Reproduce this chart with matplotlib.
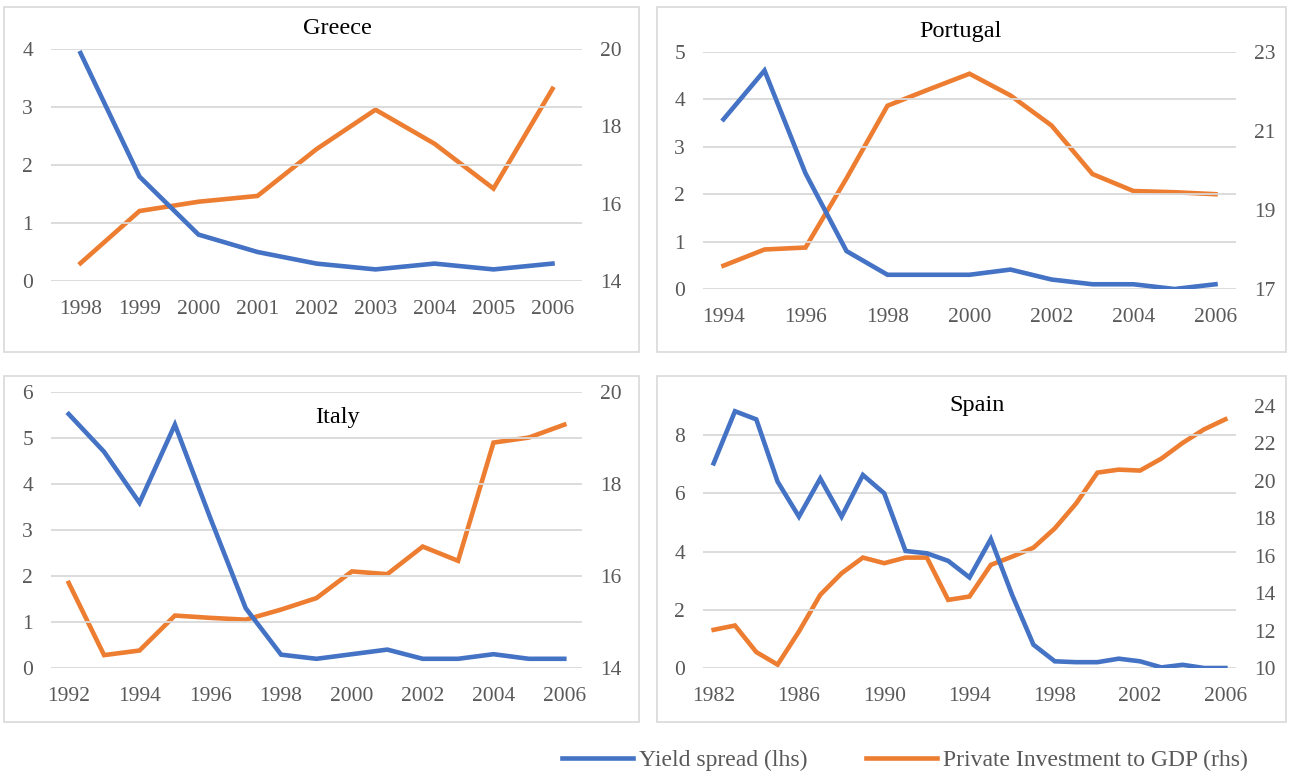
import matplotlib.pyplot as plt
from matplotlib.patches import Rectangle
from matplotlib.lines import Line2D

plt.rcParams['font.family'] = ['Liberation Serif', 'DejaVu Serif']

BLUE = '#4472C4'
ORANGE = '#ED7D31'
GRID = '#D9D9D9'
TICK = '#595959'

W, H = 1293, 776

# data
greece_years = list(range(1998, 2007))
greece_spread = [3.93, 1.8, 0.8, 0.5, 0.3, 0.2, 0.3, 0.2, 0.3]
greece_invest = [14.46, 15.81, 16.05, 16.2, 17.41, 18.43, 17.55, 16.39, 18.97]

portugal_years = list(range(1994, 2007))
portugal_spread = [3.58, 4.61, 2.44, 0.8, 0.3, 0.3, 0.3, 0.41, 0.2, 0.1, 0.1, 0.0, 0.1]
portugal_invest = [17.59, 18.0, 18.05, 19.8, 21.64, 22.05, 22.45, 21.9, 21.14,
                   19.91, 19.48, 19.45, 19.4]

italy_years = list(range(1992, 2007))
italy_spread = [5.52, 4.7, 3.59, 5.29, 3.26, 1.3, 0.29, 0.2, 0.3, 0.4, 0.2, 0.2,
                0.3, 0.2, 0.2]
italy_invest = [15.85, 14.28, 14.38, 15.14, 15.09, 15.05, 15.27, 15.52, 16.1,
                16.04, 16.64, 16.33, 18.9, 19.01, 19.29]

spain_years = list(range(1982, 2007))
spain_spread = [7.03, 8.82, 8.54, 6.4, 5.2, 6.51, 5.2, 6.63, 6.0, 4.02, 3.94,
                3.68, 3.11, 4.43, 2.51, 0.8, 0.23, 0.2, 0.2, 0.32, 0.23, 0.02,
                0.11, 0.0, 0.0]
spain_invest = [12.04, 12.27, 10.85, 10.18, 11.95, 13.91, 15.06, 15.9, 15.6,
                15.9, 15.9, 13.64, 13.82, 15.51, 15.95, 16.43, 17.46, 18.79,
                20.44, 20.6, 20.55, 21.19, 22.03, 22.75, 23.29]

fig = plt.figure(figsize=(W / 100, H / 100), dpi=100)


def box(x0, y0, x1, y1):
    fig.patches.append(Rectangle((x0 / W, 1 - y1 / H), (x1 - x0) / W, (y1 - y0) / H,
                                 transform=fig.transFigure, fill=False,
                                 edgecolor=GRID, linewidth=1.2))


def panel(area, years, spread, invest, title, title_xy, lylim, lticks, rylim, rticks, xstep):
    x0, y0, x1, y1 = area
    ax = fig.add_axes([x0 / W, 1 - y1 / H, (x1 - x0) / W, (y1 - y0) / H])
    ax2 = ax.twinx()
    ax.plot(years, spread, color=BLUE, lw=3.3, solid_joinstyle='miter')
    ax2.plot(years, invest, color=ORANGE, lw=3.3, solid_joinstyle='miter')
    ax.set_xlim(years[0] - 0.5, years[-1] + 0.5)
    ax.set_ylim(*lylim)
    ax.set_yticks(lticks)
    ax2.set_ylim(*rylim)
    ax2.set_yticks(rticks)
    ax.set_xticks(years[::xstep])
    ax.grid(axis='y', color=GRID, lw=1.3)
    ax.set_axisbelow(True)
    for a in (ax, ax2):
        for s in a.spines.values():
            s.set_visible(False)
        a.tick_params(length=0, labelsize=15.5, labelcolor=TICK)
    ax.tick_params(axis='y', pad=13)
    ax.tick_params(axis='x', pad=14)
    ax2.tick_params(axis='y', pad=13)
    ax.set_zorder(ax2.get_zorder() + 1)
    ax.patch.set_visible(False)
    fig.text(title_xy[0] / W, 1 - title_xy[1] / H, title, ha='center', va='center',
             fontsize=17.5, color='black')


box(4, 7, 639, 352)
box(657, 7, 1286, 352)
box(4, 376, 639, 722)
box(657, 376, 1286, 722)

panel((51, 49, 582, 281), greece_years, greece_spread, greece_invest, 'Greece', (337, 29),
      (0, 4), range(0, 5), (14, 20), range(14, 21, 2), 1)
panel((703, 52, 1236, 289), portugal_years, portugal_spread, portugal_invest, 'Portugal', (960, 32),
      (0, 5), range(0, 6), (17, 23), range(17, 24, 2), 2)
panel((51, 392, 582, 668), italy_years, italy_spread, italy_invest, 'Italy', (337, 418),
      (0, 6), range(0, 7), (14, 20), range(14, 21, 2), 2)
panel((703, 406, 1236, 668), spain_years, spain_spread, spain_invest, 'Spain', (977, 406),
      (0, 9), range(0, 9, 2), (10, 24), range(10, 25, 2), 4)

handles = [Line2D([], [], color=BLUE, lw=3.3), Line2D([], [], color=ORANGE, lw=3.3)]
leg = fig.legend(handles, ['Yield spread (lhs)', 'Private Investment to GDP (rhs)'],
                 loc='center', bbox_to_anchor=(905 / W, 1 - 760 / H), ncol=2,
                 frameon=False, fontsize=17, handlelength=3.0, handletextpad=0.25,
                 columnspacing=2.5)
for t in leg.get_texts():
    t.set_color(TICK)

fig.savefig('out.png', dpi=100)
